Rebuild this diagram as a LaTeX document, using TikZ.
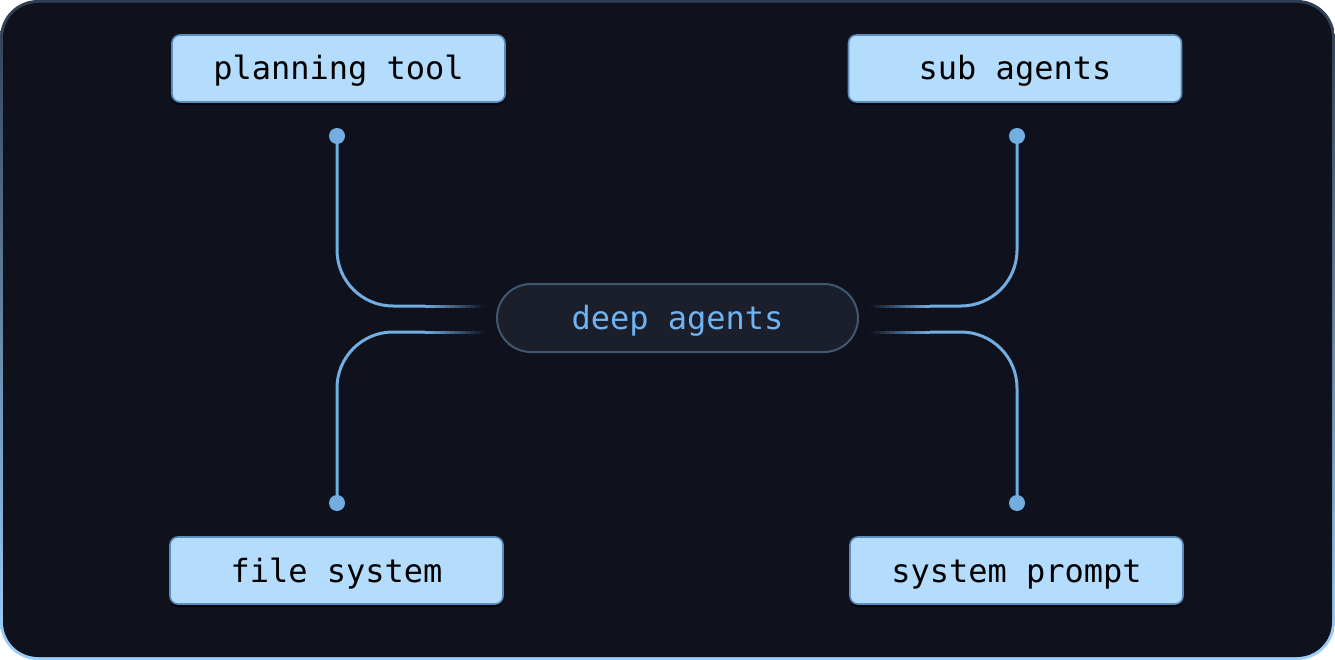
\documentclass[tikz,border=0pt]{standalone}
\usepackage{fontspec}
\newfontfamily\monof{DejaVu Sans Mono}
\usetikzlibrary{shadows}
\definecolor{bgc}{HTML}{0F111D}
\definecolor{rimA}{HTML}{2E3D52}
\definecolor{rimB}{HTML}{9DD0FC}
\definecolor{linec}{HTML}{72AEE2}
\definecolor{boxfill}{HTML}{B4DCFD}
\definecolor{boxrim}{HTML}{5C8CBB}
\definecolor{hubfill}{HTML}{1B1E2B}
\definecolor{hubrim}{HTML}{3E5872}
\definecolor{hubtext}{HTML}{6FB4F2}
\tikzset{
  conn/.style={draw=linec, line width=3pt},
  pin/.style={circle, fill=linec, inner sep=0pt, minimum size=16pt},
  tool/.style={draw=boxrim, fill=boxfill, rounded corners=8pt, line width=1.6pt,
    minimum width=333pt, minimum height=67pt, text=black,
    text height=26pt, text depth=3pt,
    font=\monof\fontsize{32}{32}\selectfont,
    drop shadow={shadow xshift=0pt, shadow yshift=-3pt, opacity=0.6, fill=black}},
  hubbox/.style={draw=hubrim, fill=hubfill, rounded corners=34pt, line width=2pt,
    minimum width=361pt, minimum height=68pt, text=hubtext,
    text height=26pt, text depth=3pt,
    font=\monof\fontsize{32}{32}\selectfont},
}
\begin{document}
\begin{tikzpicture}[x=1pt,y=-1pt]
\useasboundingbox (0,0) rectangle (1335,660);
% frame
\fill[white] (0,0) rectangle (1335,660);
\shade[shading=axis, top color=rimA, bottom color=rimB, rounded corners=38pt]
  (0,0) rectangle (1335,660);
\fill[bgc, rounded corners=35pt] (3,3) rectangle (1332,657);

% tool boxes
\node[tool] (plan) at (338.5,68.5) {planning tool};
\node[tool] (sub) at (1015,68.5) {sub agents};
\node[tool] (file) at (336.5,570.5) {file system};
\node[tool] (sys) at (1016.5,570.5) {system prompt};

% hub
\node[hubbox] (hub) at (677.5,318) {deep agents};

% pins
\node[pin] (pPlan) at (337,136) {};
\node[pin] (pSub) at (1017,136) {};
\node[pin] (pFile) at (337,503) {};
\node[pin] (pSys) at (1017,503) {};

% fade anchors
\coordinate (aL1) at (425,306);
\coordinate (aL2) at (425,332);
\coordinate (aR1) at (930,306);
\coordinate (aR2) at (930,332);

% connectors
\draw[conn, rounded corners=56pt] (pPlan.center) |- (aL1);
\draw[conn, rounded corners=56pt] (pFile.center) |- (aL2);
\draw[conn, rounded corners=56pt] (pSub.center) |- (aR1);
\draw[conn, rounded corners=56pt] (pSys.center) |- (aR2);

% fading tails toward the hub
\foreach \i in {0,...,11}{
  \pgfmathsetmacro{\op}{1-(\i+0.5)/12}
  \draw[draw=linec, line width=3pt, draw opacity=\op]
    ([xshift=\i*5pt]aL1) -- ([xshift=\i*5pt+5pt]aL1);
  \draw[draw=linec, line width=3pt, draw opacity=\op]
    ([xshift=\i*5pt]aL2) -- ([xshift=\i*5pt+5pt]aL2);
  \draw[draw=linec, line width=3pt, draw opacity=\op]
    ([xshift=-\i*5pt]aR1) -- ([xshift=-\i*5pt-5pt]aR1);
  \draw[draw=linec, line width=3pt, draw opacity=\op]
    ([xshift=-\i*5pt]aR2) -- ([xshift=-\i*5pt-5pt]aR2);
}
\end{tikzpicture}
\end{document}
